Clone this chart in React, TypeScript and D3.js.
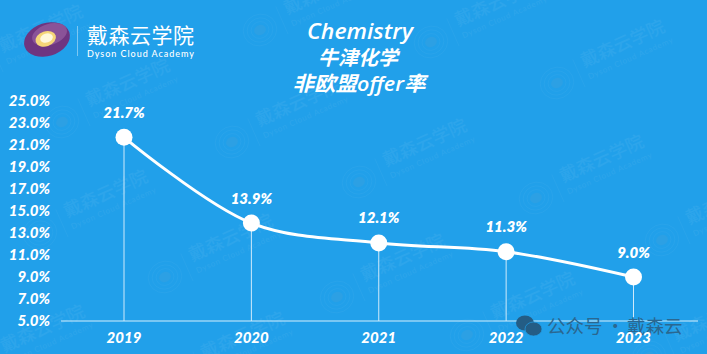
import React from "react";
import * as d3 from "d3";

const years = ["2019", "2020", "2021", "2022", "2023"];
const rates = [21.7, 13.9, 12.1, 11.3, 9.0];
const yTicks = [5, 7, 9, 11, 13, 15, 17, 19, 21, 23, 25];
const titleLines = ["Chemistry", "牛津化学", "非欧盟offer率"];
const markPlaces: [number, number][] = [
  [-25, 68], [62, 122], [232, 142], [359, 182], [536, 198], [662, 240],
  [40, 233], [165, 277], [337, 297], [467, 335], [649, 357],
  [260, 30], [431, 42], [557, 83], [-23, 368], [177, 375],
];

const W = 707, H = 354;
const x = d3.scalePoint<string>().domain(years).range([124, 633.5]);
const y = d3.scaleLinear().domain([5, 25]).range([321, 101]);
const WHITE = "#ffffff";
const FONT = "Lato, 'Noto Sans CJK SC', sans-serif";
const CJK = "'Noto Sans CJK SC', sans-serif";

const points = years.map((yr, i) => [x(yr) as number, y(rates[i])] as [number, number]);
const linePath = d3.line().curve(d3.curveCatmullRom.alpha(0.5))(points) as string;

function Watermark({ px, py }: { px: number; py: number }) {
  return (
    <g transform={`translate(${px},${py}) rotate(-24)`} fill="#ffffff" opacity={0.05}>
      {[17, 13, 9].map(r => <ellipse key={r} rx={r} ry={r * 0.92} fill="none" stroke="#fff" strokeWidth={0.6} />)}
      <ellipse rx={6} ry={5} fill="#f0a080" />
      <line x1={24} x2={24} y1={-15} y2={15} stroke="#fff" strokeWidth={0.6} />
      <text x={31} y={-3} fontFamily={CJK} fontSize={18} fontWeight={500}>戴森云学院</text>
      <text x={31} y={10} fontFamily={FONT} fontSize={8} fontWeight={500} textLength={92}>Dyson Cloud Academy</text>
    </g>
  );
}

export default function App() {
  return (
    <svg width={W} height={H} viewBox={`0 0 ${W} ${H}`} style={{ position: "fixed", left: 0, top: 0, display: "block" }}>
      <rect width={W} height={H} fill="#21a0ea" />
      {markPlaces.map(([px, py], i) => <Watermark key={i} px={px} py={py} />)}

      {/* logo */}
      <g transform="translate(47,39.5) rotate(-18)">
        <ellipse rx={23.5} ry={16.5} fill="#6e3580" />
        <ellipse cx={4} cy={-4} rx={18} ry={10.5} fill="#8a5398" />
        <ellipse cx={-1} cy={-1} rx={10.5} ry={7.5} fill="#f6d678" />
        <ellipse cx={0} cy={-1.5} rx={6.5} ry={4.5} fill="#fff8dc" />
      </g>
      <line x1={77.5} x2={77.5} y1={26} y2={56} stroke="#7cc7f2" strokeWidth={1} />
      <text x={87} y={43} fontFamily={CJK} fontSize={21} fontWeight={400} fill={WHITE} textLength={107}>戴森云学院</text>
      <text x={87} y={57} fontFamily={FONT} fontSize={9} fontWeight={500} fill={WHITE} textLength={107}>Dyson Cloud Academy</text>

      {/* title */}
      {titleLines.map((t, i) => (
        <text key={t} x={[360, 358, 359][i]} y={[39, 65, 91][i]} textAnchor="middle"
          fontFamily="'Open Sans', 'Noto Sans CJK SC', sans-serif"
          fontStyle="italic" fontWeight={600} fontSize={[21, 20, 20.5][i]} fill={WHITE}
          textLength={[106, 80, 133][i]} lengthAdjust="spacingAndGlyphs">{t}</text>
      ))}

      {/* y axis labels */}
      {yTicks.map(t => (
        <text key={t} x={50} y={y(t) + 4.6} textAnchor="end" fontFamily={FONT} fontStyle="italic" fontWeight={900}
          fontSize={15} fill={WHITE}>{t.toFixed(1)}%</text>
      ))}

      {/* baseline */}
      <line x1={61} x2={698} y1={y(5)} y2={y(5)} stroke="#d4eefc" strokeWidth={1} />

      {/* droplines */}
      {years.map((yr, i) => (
        <line key={yr} x1={x(yr)} x2={x(yr)} y1={y(rates[i])} y2={y(5)} stroke="#cfeafb" strokeWidth={1} />
      ))}

      <path d={linePath} fill="none" stroke={WHITE} strokeWidth={3} strokeLinecap="round" />

      {/* WeChat signature */}
      <g>
        <ellipse cx={525} cy={323} rx={9} ry={7.5} fill="#245d85" />
        <ellipse cx={533.5} cy={329} rx={8.5} ry={7} fill="#245d85" stroke="#21a0ea" strokeWidth={0.7} />
        <text y={332.5} fontFamily={CJK} fontSize={18.5} fill="#2a6790">
          <tspan x={547}>公众号</tspan><tspan x={606}>·</tspan><tspan x={627}>戴森云</tspan>
        </text>
      </g>

      {years.map((yr, i) => (
        <g key={yr}>
          <circle cx={x(yr)} cy={y(rates[i])} r={8.5} fill={WHITE} />
          <text x={x(yr)} y={y(rates[i]) - 19.5} textAnchor="middle" fontFamily={FONT} fontStyle="italic" fontWeight={800}
            fontSize={15} fill={WHITE}>{rates[i].toFixed(1)}%</text>
          <text x={x(yr)} y={343} textAnchor="middle" fontFamily={FONT} fontStyle="italic" fontWeight={900}
            fontSize={15} fill={WHITE}>{yr}</text>
        </g>
      ))}
    </svg>
  );
}
